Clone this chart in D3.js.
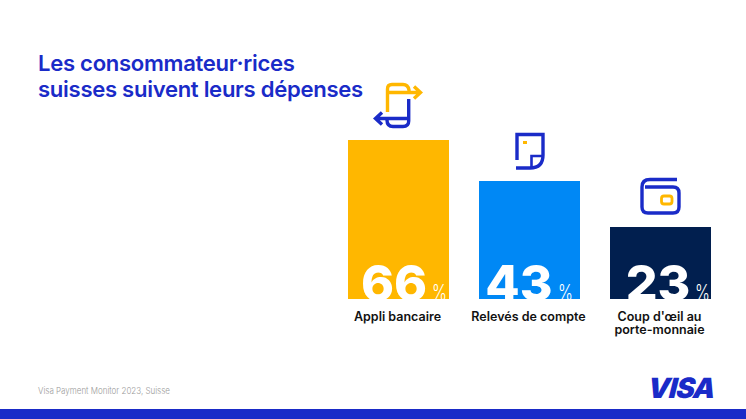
<!DOCTYPE html>
<html><head><meta charset="utf-8">
<script src="https://cdn.jsdelivr.net/npm/d3@7"></script>
<style>html,body{margin:0;padding:0;background:#fff}svg{display:block}text{font-family:Inter,"Noto Sans",sans-serif}</style>
</head><body><div id="c"></div>
<script>
const titleLines = ["Les consommateur·rices", "suisses suivent leurs dépenses"];
const categories = ["Appli bancaire", "Relevés de compte", "Coup d'œil au|porte-monnaie"];
const values = [66, 43, 23];
const colors = ["#FFB700", "#0088F5", "#011F4F"];
const source = "Visa Payment Monitor 2023, Suisse";
const BLUE = "#1A2BC8", YEL = "#FFB700";

const W = 746, H = 419;
const svg = d3.select("#c").append("svg").attr("width", W).attr("height", H);

const x = d3.scaleBand().domain(categories).range([348, 711]).paddingInner(0.229).paddingOuter(0);
// The reference's bars are not proportional to their labels: this scale follows the drawn heights.
const y = d3.scaleLinear().domain([0, 23, 43, 66]).range([299, 227, 181, 140]);

svg.append("g").selectAll("text").data(titleLines).join("text")
  .attr("x", 38).attr("y", (d, i) => 71 + i * 26)
  .attr("fill", BLUE).attr("font-size", 22.1).attr("font-weight", 600).attr("letter-spacing", -0.3).text(d => d);

const defs = svg.append("defs");
categories.forEach((c, i) => {
  defs.append("clipPath").attr("id", "clip" + i).append("rect")
    .attr("x", x(c)).attr("y", y(values[i])).attr("width", x.bandwidth()).attr("height", y(0) - y(values[i]));
});

const bars = svg.append("g").selectAll("g").data(categories).join("g");
bars.append("rect").attr("x", d => x(d)).attr("y", (d, i) => y(values[i]))
  .attr("width", x.bandwidth()).attr("height", (d, i) => y(0) - y(values[i]))
  .attr("fill", (d, i) => colors[i]);
const inner = bars.append("g").attr("clip-path", (d, i) => `url(#clip${i})`);
const numCx = [394, 519, 658], pctX = [432, 558, 695];
inner.append("text").attr("x", (d, i) => numCx[i]).attr("y", 301).attr("text-anchor", "middle")
  .attr("fill", "#fff").attr("font-size", 50).attr("font-weight", 800).text((d, i) => values[i]);
inner.append("text").attr("x", (d, i) => pctX[i]).attr("y", 299.5)
  .attr("fill", "#fff").attr("font-size", 21).attr("font-weight", 300)
  .attr("textLength", 15).attr("lengthAdjust", "spacingAndGlyphs").text("%");

bars.append("text").attr("text-anchor", "middle").attr("fill", "#111").attr("font-size", 12.5).attr("font-weight", 600)
  .selectAll("tspan").data(d => d.split("|").map(t => [d, t])).join("tspan")
  .attr("x", d => x(d[0]) + x.bandwidth() / 2 - 1).attr("y", (d, i) => 320.5 + i * 13).text(d => d[1]);

svg.append("text").attr("x", 38).attr("y", 394).attr("fill", "#9a9a9a").attr("font-size", 9.2).attr("font-weight", 300)
  .attr("textLength", 132).attr("lengthAdjust", "spacingAndGlyphs").text(source);

svg.append("text").attr("x", 0).attr("y", 0).attr("transform", "translate(646,397.5) skewX(-14)")
  .attr("fill", BLUE).attr("font-size", 28).attr("font-weight", 900).attr("letter-spacing", -1).text("VISA");

svg.append("rect").attr("x", 0).attr("y", 409).attr("width", W).attr("height", 10).attr("fill", BLUE);

// Icons
const icon = (d, col, w) => svg.append("path").attr("d", d).attr("fill", "none").attr("stroke", col).attr("stroke-width", w || 3.4);
icon("M387.5,112 V89 Q387.5,84.5 392,84.5 H403 Q408,84.5 409,90 V93", YEL);
icon("M387.5,92.5 H419 M414,86.5 L420.5,92.5 L414,98.5", YEL);
icon("M408.7,99 V121 Q408.7,126.5 403,126.5 H393 Q387,126.5 387,120 V118", BLUE);
icon("M408.7,118.5 H376 M382,112.5 L375.5,118.5 L382,124.5", BLUE);
icon("M517,160 V134.5 H543 V155 Q543,168 530,168 H516", BLUE);
icon("M543,156 H531.5 V168", BLUE, 2.6);
svg.append("rect").attr("x", 523).attr("y", 141).attr("width", 4).attr("height", 3).attr("fill", YEL);
icon("M677,179.5 H650 Q642,179.5 642,187 V207 Q642,213 648,213 H673 Q679,213 679,207 V193 Q679,187 673,187 H645", BLUE);
svg.append("rect").attr("x", 661.5).attr("y", 196).attr("width", 10.5).attr("height", 8).attr("rx", 2.5)
  .attr("fill", "none").attr("stroke", YEL).attr("stroke-width", 2.8);
</script></body></html>
